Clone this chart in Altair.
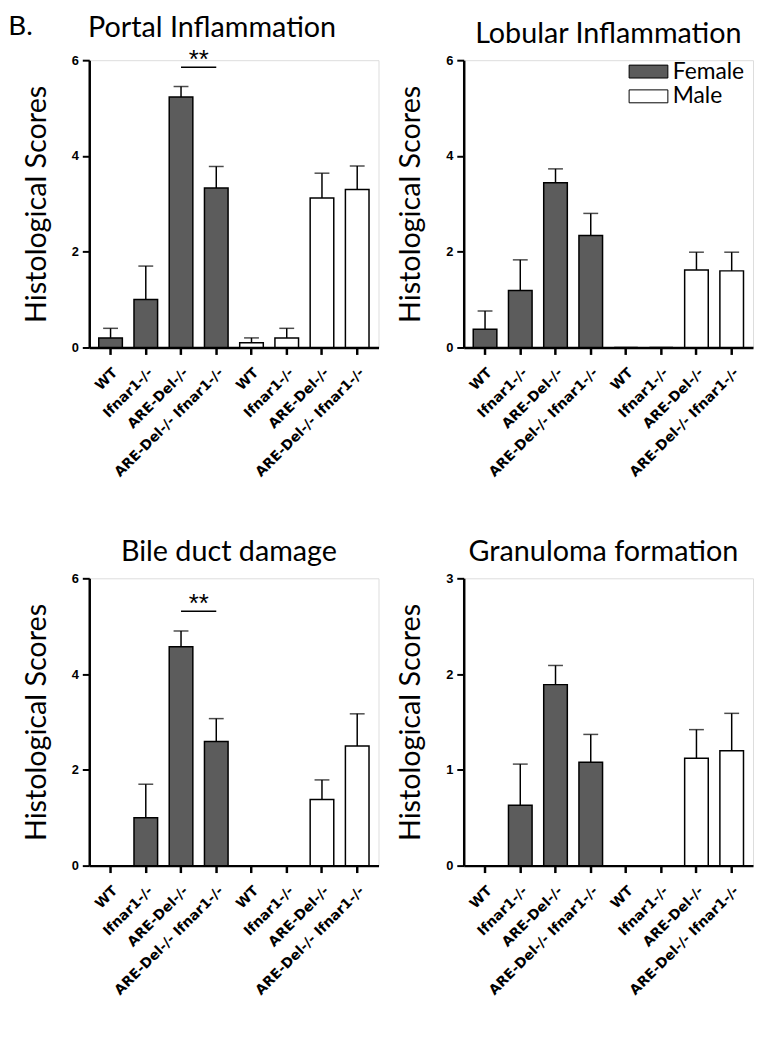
import altair as alt
import pandas as pd

groups = ["WT", "Ifnar1-/-", "ARE-Del-/-", "ARE-Del-/- Ifnar1-/-"]
sexes = ["Female"] * 4 + ["Male"] * 4
genotypes = groups + groups

portal_mean = [0.2, 1.0, 5.23, 3.33, 0.1, 0.2, 3.12, 3.3]
portal_sem = [0.2, 0.7, 0.22, 0.45, 0.1, 0.2, 0.52, 0.49]

lobular_mean = [0.38, 1.19, 3.44, 2.34, 0.0, 0.0, 1.62, 1.6]
lobular_sem = [0.38, 0.64, 0.29, 0.46, 0.0, 0.0, 0.37, 0.39]

bile_mean = [0.0, 1.0, 4.57, 2.59, 0.0, 0.0, 1.38, 2.5]
bile_sem = [0.0, 0.7, 0.33, 0.48, 0.0, 0.0, 0.41, 0.67]

gran_mean = [0.0, 0.63, 1.89, 1.08, 0.0, 0.0, 1.12, 1.2]
gran_sem = [0.0, 0.43, 0.2, 0.29, 0.0, 0.0, 0.3, 0.39]

keys = [s + "|" + g for s, g in zip(sexes, genotypes)]

W, H = 292, 290
FEMALE = "#5c5c5c"


def panel(title, means, sems, ymax, yvals, sig=None, legend=False, title_dx=0):
    df = pd.DataFrame({"key": keys, "sex": sexes, "mean": means, "sem": sems})
    df["upper"] = df["mean"] + df["sem"]
    xenc = alt.X(
        "key:N",
        sort=keys,
        scale=alt.Scale(domain=keys, paddingInner=0.33, paddingOuter=0.27),
        axis=alt.Axis(
            title=None,
            labelExpr="split(datum.value, '|')[1]",
            labelAngle=-45,
            labelFont="DejaVu Sans",
            labelFontWeight="bold",
            labelFontSize=14,
            labelColor="black",
            labelPadding=11,
            domainColor="black",
            domainWidth=2.5,
            tickColor="black",
            tickWidth=2.5,
            tickSize=7,
        ),
    )
    yscale = alt.Scale(domain=[0, ymax], nice=False, zero=True)
    yaxis = alt.Axis(
        title="Histological Scores",
        values=yvals,
        format="d",
        grid=False,
        labelFont="Liberation Sans",
        labelFontWeight="bold",
        labelFontSize=13,
        labelColor="black",
        labelPadding=4,
        domainColor="black",
        domainWidth=2.5,
        tickColor="black",
        tickWidth=2,
        tickSize=7,
        titleFont="Lato",
        titleFontSize=29,
        titleFontWeight="normal",
        titleColor="black",
        titlePadding=20,
    )
    if legend:
        leg = alt.Legend(
            title=None,
            orient="none",
            legendX=175,
            legendY=0,
            padding=0,
            symbolType="M-3,-1H3V1H-3Z",
            symbolSize=170,
            symbolStrokeColor="black",
            symbolStrokeWidth=1,
            labelFont="Lato",
            labelFontSize=23,
            labelColor="black",
            labelOffset=13,
            rowPadding=1,
        )
    else:
        leg = None
    fill = alt.Fill(
        "sex:N",
        scale=alt.Scale(domain=["Female", "Male"], range=[FEMALE, "white"]),
        legend=leg,
    )
    base = alt.Chart(df)
    bars = base.mark_bar(stroke="black", strokeWidth=1.5).encode(
        x=xenc, y=alt.Y("mean:Q", scale=yscale, axis=yaxis), fill=fill
    )
    err_df = base.transform_filter("datum.sem > 0")
    rule = err_df.mark_rule(color="black", strokeWidth=1.5).encode(
        x=alt.X("key:N", sort=keys), y="mean:Q", y2="upper:Q"
    )
    cap = err_df.mark_tick(color="black", thickness=1.5, size=15).encode(
        x=alt.X("key:N", sort=keys), y="upper:Q"
    )
    layers = [bars, rule, cap]
    if sig is not None:
        sdf = pd.DataFrame({"k1": [keys[2]], "k2": [keys[3]], "y": [sig], "t": ["**"]})
        sc = alt.Chart(sdf)
        layers.append(
            sc.mark_rule(color="black", strokeWidth=1.5).encode(
                x=alt.X("k1:N", sort=keys), x2="k2:N", y="y:Q"
            )
        )
        layers.append(
            sc.mark_text(
                font="Liberation Sans", fontSize=26, baseline="alphabetic", dx=18, dy=1, color="black"
            ).encode(x=alt.X("k1:N", sort=keys), y="y:Q", text="t:N")
        )
    return alt.layer(*layers).properties(
        width=W,
        height=H,
        title=alt.TitleParams(
            title, font="Lato", fontSize=29, fontWeight="normal", color="black",
            anchor="middle", offset=5, dx=title_dx,
        ),
    ).resolve_scale(fill="independent")


p1 = panel("Portal Inflammation", portal_mean, portal_sem, 6, [0, 2, 4, 6], sig=5.85, title_dx=-22)
p2 = panel("Lobular Inflammation", lobular_mean, lobular_sem, 6, [0, 2, 4, 6], legend=True, title_dx=0)
p3 = panel("Bile duct damage", bile_mean, bile_sem, 6, [0, 2, 4, 6], sig=5.31, title_dx=-5)
p4 = panel("Granuloma formation", gran_mean, gran_sem, 3, [0, 1, 2, 3], title_dx=-5)

chart = alt.concat(p1, p2, p3, p4, columns=2, spacing={"row": 233, "column": 86}, bounds="flush").resolve_scale(
    fill="independent", x="independent", y="independent"
).resolve_legend(fill="independent").properties(
    padding={"left": 0, "top": 0, "right": 0, "bottom": 0},
    title=alt.TitleParams(
        "B.", font="Lato", fontSize=28, fontWeight="normal", color="black",
        anchor="start", frame="bounds", offset=-28, dx=-14,
    ),
).configure_view(stroke=None).configure(background="white")

chart.save("out.html", embed_options={"renderer": "svg", "actions": False})
